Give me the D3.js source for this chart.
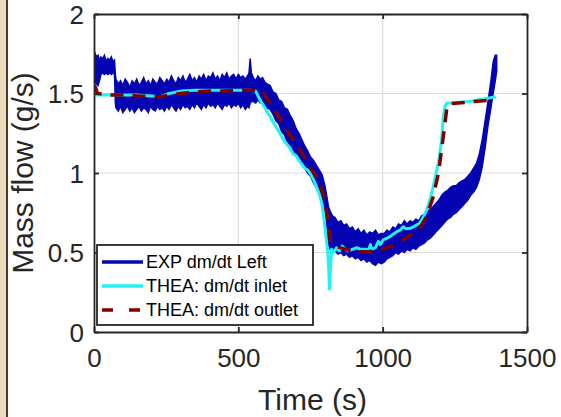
<!DOCTYPE html>
<html>
<head>
<meta charset="utf-8">
<script src="https://cdn.jsdelivr.net/npm/d3@7"></script>
<style>
  body { margin: 0; background: #fff; }
  svg { display: block; font-family: "Liberation Sans", Arial, sans-serif; }
</style>
</head>
<body>
<div id="chart"></div>
<script>
// tick labels
var xTicks = [0, 500, 1000, 1500];
var yTicks = [0, 0.5, 1, 1.5, 2];
var seriesNames = ["EXP dm/dt Left", "THEA: dm/dt inlet", "THEA: dm/dt outlet"];

// EXP dm/dt Left : noisy signal, read as upper / lower envelope of the band
var expT = [0, 4, 9, 14, 19, 24, 30, 36, 42, 48, 54, 60, 66, 71, 74,
  76, 84, 92, 100, 108, 116, 124, 132, 140, 148,
  156, 164, 172, 180, 188, 196, 204, 212, 220, 228,
  236, 244, 252, 260, 268, 276, 284, 292, 300, 308,
  316, 324, 332, 340, 348, 356, 364, 372, 380, 388,
  396, 404, 412, 420, 428, 436, 444, 452, 460, 468,
  476, 484, 492, 500, 508, 516, 524, 532,
  537, 541, 545, 552, 560, 568, 576, 584, 592, 600,
  610, 620, 630, 640, 650, 660, 670, 680, 690, 700, 710, 720, 730, 740, 750, 760, 770, 780, 790, 800,
  806, 812, 818, 826,
  835, 845, 855, 865, 875, 885, 895, 905, 915, 925, 935, 945, 955, 965, 975, 985, 995,
  1005, 1015, 1025, 1035, 1045, 1055, 1065, 1075, 1085, 1095, 1105, 1115, 1125, 1135, 1145, 1155, 1165, 1175, 1185, 1195,
  1205, 1215, 1225, 1235, 1245, 1255, 1265, 1275, 1285, 1295, 1305, 1315, 1325, 1335, 1345, 1355, 1365, 1375, 1383, 1390, 1395];
var expHi = [1.70, 1.75, 1.73, 1.74, 1.71, 1.73, 1.72, 1.74, 1.70, 1.72, 1.71, 1.73, 1.70, 1.71, 1.62,
  1.59, 1.56, 1.58, 1.55, 1.59, 1.57, 1.54, 1.58, 1.56, 1.59,
  1.55, 1.57, 1.60, 1.56, 1.58, 1.55, 1.59, 1.57, 1.56, 1.60,
  1.58, 1.56, 1.59, 1.57, 1.61, 1.58, 1.56, 1.60, 1.58, 1.61,
  1.57, 1.59, 1.62, 1.58, 1.60, 1.57, 1.61, 1.59, 1.62, 1.58,
  1.61, 1.60, 1.63, 1.59, 1.61, 1.58, 1.62, 1.60, 1.63, 1.59,
  1.61, 1.62, 1.59, 1.62, 1.60, 1.61, 1.59, 1.61,
  1.63, 1.72, 1.63, 1.60, 1.58, 1.61, 1.59, 1.60, 1.57, 1.56,
  1.55, 1.51, 1.50, 1.46, 1.45, 1.41, 1.40, 1.36, 1.33, 1.28, 1.25, 1.21, 1.17, 1.14, 1.10, 1.08, 1.05, 1.02, 0.99, 0.92,
  0.86, 0.79, 0.76, 0.73,
  0.72, 0.69, 0.70, 0.67, 0.68, 0.65, 0.66, 0.63, 0.65, 0.62, 0.64, 0.61, 0.63, 0.62, 0.64, 0.61, 0.62,
  0.62, 0.64, 0.63, 0.66, 0.65, 0.68, 0.67, 0.70, 0.68, 0.70, 0.69, 0.71, 0.70, 0.73, 0.74, 0.76, 0.77, 0.79, 0.81, 0.83,
  0.86, 0.88, 0.89, 0.91, 0.92, 0.92, 0.94, 0.95, 0.96, 0.98, 1.00, 1.03, 1.06, 1.12, 1.21, 1.33, 1.45, 1.58, 1.70, 1.74, 1.74];
var expLo = [1.60, 1.57, 1.56, 1.55, 1.58, 1.62, 1.63, 1.62, 1.63, 1.62, 1.63, 1.62, 1.63, 1.62, 1.44,
  1.41, 1.39, 1.42, 1.38, 1.40, 1.42, 1.39, 1.41, 1.38, 1.40,
  1.42, 1.39, 1.41, 1.40, 1.38, 1.42, 1.40, 1.39, 1.42, 1.40,
  1.41, 1.39, 1.42, 1.40, 1.43, 1.41, 1.39, 1.42, 1.40, 1.43,
  1.41, 1.42, 1.40, 1.43, 1.41, 1.44, 1.42, 1.40, 1.43, 1.41,
  1.44, 1.42, 1.43, 1.41, 1.44, 1.42, 1.40, 1.43, 1.42, 1.44,
  1.41, 1.43, 1.42, 1.44, 1.41, 1.43, 1.40, 1.42,
  1.41, 1.44, 1.45, 1.45, 1.44, 1.46, 1.44, 1.45, 1.43, 1.41,
  1.40, 1.37, 1.33, 1.31, 1.26, 1.24, 1.19, 1.16, 1.14, 1.11, 1.08, 1.06, 1.03, 1.00, 0.98, 0.94, 0.91, 0.88, 0.85, 0.77,
  0.68, 0.55, 0.52, 0.53,
  0.51, 0.49, 0.50, 0.48, 0.49, 0.47, 0.48, 0.46, 0.47, 0.45, 0.46, 0.44, 0.45, 0.43, 0.42, 0.44, 0.43,
  0.44, 0.46, 0.47, 0.48, 0.50, 0.49, 0.51, 0.50, 0.52, 0.51, 0.53, 0.52, 0.54, 0.55, 0.56, 0.58, 0.59, 0.61, 0.63, 0.65,
  0.67, 0.69, 0.71, 0.72, 0.74, 0.75, 0.77, 0.79, 0.81, 0.83, 0.86, 0.88, 0.91, 0.96, 1.04, 1.16, 1.30, 1.41, 1.50, 1.58, 1.64];

// THEA: dm/dt inlet
var inletT = [0, 50, 100, 150, 200, 230, 260, 300, 350, 400, 450, 500, 540, 560, 575, 592, 610, 627, 644, 660,
  679, 690, 700, 714, 730, 740, 748, 760, 771, 780, 789, 795, 800, 806, 810, 813, 816, 819, 823, 830,
  840, 850, 860, 870, 880, 895, 910, 925, 940, 950, 958, 962, 975, 985, 992, 1002, 1015, 1025, 1040, 1049,
  1060, 1071, 1080, 1095, 1110, 1129, 1140, 1152, 1165, 1175, 1185, 1193, 1200, 1204, 1210, 1216, 1222, 1240, 1300, 1350, 1392];
var inletV = [1.49, 1.49, 1.49, 1.49, 1.485, 1.48, 1.50, 1.515, 1.52, 1.52, 1.52, 1.52, 1.52, 1.515, 1.46, 1.41, 1.354, 1.30, 1.25, 1.20,
  1.157, 1.12, 1.11, 1.07, 1.03, 1.02, 1.00, 0.96, 0.914, 0.87, 0.81, 0.74, 0.66, 0.56, 0.50, 0.40, 0.27, 0.40, 0.52, 0.50,
  0.53, 0.51, 0.54, 0.52, 0.51, 0.52, 0.53, 0.52, 0.52, 0.515, 0.55, 0.52, 0.53, 0.57, 0.55, 0.58, 0.59, 0.60, 0.62, 0.631,
  0.64, 0.662, 0.65, 0.652, 0.665, 0.686, 0.72, 0.767, 0.84, 0.914, 1.00, 1.063, 1.15, 1.207, 1.354, 1.42, 1.44, 1.44, 1.45, 1.465, 1.48];

// THEA: dm/dt outlet
var outletT = [0, 5, 12, 50, 100, 150, 200, 230, 260, 300, 350, 400, 450, 500, 550, 580, 595, 610, 644, 679,
  714, 748, 783, 800, 812, 820, 830, 852, 880, 910, 950, 991, 1030, 1060, 1106, 1130, 1152, 1175, 1193, 1204,
  1216, 1223, 1230, 1260, 1320, 1390];
var outletV = [1.55, 1.54, 1.50, 1.49, 1.49, 1.485, 1.48, 1.48, 1.49, 1.50, 1.51, 1.515, 1.515, 1.52, 1.52, 1.52, 1.48, 1.438, 1.344, 1.239,
  1.145, 1.04, 0.935, 0.83, 0.686, 0.568, 0.55, 0.53, 0.515, 0.505, 0.505, 0.515, 0.54, 0.568, 0.621, 0.66, 0.725, 0.851, 0.998, 1.145,
  1.313, 1.42, 1.435, 1.44, 1.45, 1.46];

var width = 561, height = 417;
var plotLeft = 94, plotRight = 527, plotTop = 14, plotBottom = 332;
var axisColor = "#262626";

var svg = d3.select("#chart").append("svg")
  .attr("width", width)
  .attr("height", height);

svg.append("rect").attr("width", width).attr("height", height).attr("fill", "#fff");

// left border strip of the scanned page
svg.append("rect").attr("x", 0).attr("y", 0).attr("width", 6).attr("height", height).attr("fill", "#eadbbd");
svg.append("line").attr("x1", 7).attr("x2", 7).attr("y1", 0).attr("y2", height)
  .attr("stroke", "#4a3827").attr("stroke-width", 2);

var x = d3.scaleLinear().domain([0, 1500]).range([plotLeft, plotRight]);
var y = d3.scaleLinear().domain([0, 2]).range([plotBottom, plotTop]);

// grid
svg.append("g").selectAll("line").data(xTicks.slice(1, -1)).enter().append("line")
  .attr("x1", function(d) { return x(d); }).attr("x2", function(d) { return x(d); })
  .attr("y1", plotTop).attr("y2", plotBottom)
  .attr("stroke", "#dedede").attr("stroke-width", 1.2);
svg.append("g").selectAll("line").data(yTicks.slice(1, -1)).enter().append("line")
  .attr("x1", plotLeft).attr("x2", plotRight)
  .attr("y1", function(d) { return y(d); }).attr("y2", function(d) { return y(d); })
  .attr("stroke", "#dedede").attr("stroke-width", 1.2);

svg.append("clipPath").attr("id", "plotclip").append("rect")
  .attr("x", plotLeft).attr("y", plotTop).attr("width", plotRight - plotLeft).attr("height", plotBottom - plotTop);

var plot = svg.append("g").attr("clip-path", "url(#plotclip)");

// EXP band
var band = expT.map(function(t, i) { return {t: t, hi: expHi[i], lo: expLo[i]}; });
var area = d3.area()
  .x(function(d) { return x(d.t); })
  .y0(function(d) { return y(d.lo); })
  .y1(function(d) { return y(d.hi); });
plot.append("path").datum(band)
  .attr("d", area)
  .attr("fill", "#0404b2")
  .attr("stroke", "#0404b2")
  .attr("stroke-width", 1.5)
  .attr("stroke-linejoin", "miter");

var line = d3.line()
  .x(function(d) { return x(d[0]); })
  .y(function(d) { return y(d[1]); });

plot.append("path").datum(d3.zip(inletT, inletV))
  .attr("d", line)
  .attr("fill", "none")
  .attr("stroke", "#1ef2f2")
  .attr("stroke-width", 3)
  .attr("stroke-linejoin", "round");

plot.append("path").datum(d3.zip(outletT, outletV))
  .attr("d", line)
  .attr("fill", "none")
  .attr("stroke", "#800000")
  .attr("stroke-width", 3.5)
  .attr("stroke-dasharray", "13,9");

// axes, ticks inward on all four sides
var gx = svg.append("g").attr("transform", "translate(0," + plotBottom + ")")
  .call(d3.axisBottom(x).tickValues(xTicks).tickSize(-5).tickSizeOuter(0).tickPadding(17)
    .tickFormat(function(d) { return String(d); }));
var gy = svg.append("g").attr("transform", "translate(" + plotLeft + ",0)")
  .call(d3.axisLeft(y).tickValues(yTicks).tickSize(-5).tickSizeOuter(0).tickPadding(10)
    .tickFormat(function(d) { return String(d); }));
var gt = svg.append("g").attr("transform", "translate(0," + plotTop + ")")
  .call(d3.axisTop(x).tickValues(xTicks).tickSize(-5).tickSizeOuter(0).tickFormat(""));
var gr = svg.append("g").attr("transform", "translate(" + plotRight + ",0)")
  .call(d3.axisRight(y).tickValues(yTicks).tickSize(-5).tickSizeOuter(0).tickFormat(""));

[gx, gy, gt, gr].forEach(function(g) {
  g.attr("color", axisColor);
  g.select(".domain").attr("stroke-width", 1.8);
  g.selectAll(".tick line").attr("stroke-width", 1.8);
});
gx.selectAll("text").attr("font-size", 26).attr("font-family", "Liberation Sans, Arial, sans-serif").attr("fill", axisColor);
gy.selectAll("text").attr("font-size", 26).attr("font-family", "Liberation Sans, Arial, sans-serif").attr("fill", axisColor)
  .attr("dy", "0.36em");

// axis labels
svg.append("text")
  .attr("x", (plotLeft + plotRight) / 2 + 2).attr("y", 410)
  .attr("text-anchor", "middle")
  .attr("font-size", 30).attr("fill", axisColor)
  .text("Time (s)");
svg.append("text")
  .attr("transform", "translate(33," + ((plotTop + plotBottom) / 2) + ") rotate(-90)")
  .attr("text-anchor", "middle")
  .attr("font-size", 30).attr("fill", axisColor)
  .text("Mass flow (g/s)");

// legend
var legend = svg.append("g");
legend.append("rect")
  .attr("x", 97).attr("y", 245).attr("width", 216).attr("height", 80)
  .attr("fill", "#fff").attr("stroke", axisColor).attr("stroke-width", 1.8);
var legendStyle = [
  {color: "#0404b2", width: 3.5, dash: null},
  {color: "#1ef2f2", width: 3.5, dash: null},
  {color: "#800000", width: 3.5, dash: "11,16"}
];
var rows = legend.selectAll("g.row").data(seriesNames).enter().append("g")
  .attr("transform", function(d, i) { return "translate(0," + (262 + i * 24) + ")"; });
rows.append("line")
  .attr("x1", 102).attr("x2", 143).attr("y1", 0).attr("y2", 0)
  .attr("stroke", function(d, i) { return legendStyle[i].color; })
  .attr("stroke-width", function(d, i) { return legendStyle[i].width; })
  .attr("stroke-dasharray", function(d, i) { return legendStyle[i].dash; });
rows.append("text")
  .attr("x", 146).attr("y", 0).attr("dy", "0.36em")
  .attr("font-size", 18).attr("fill", "#000")
  .text(function(d) { return d; });
</script>
</body>
</html>
